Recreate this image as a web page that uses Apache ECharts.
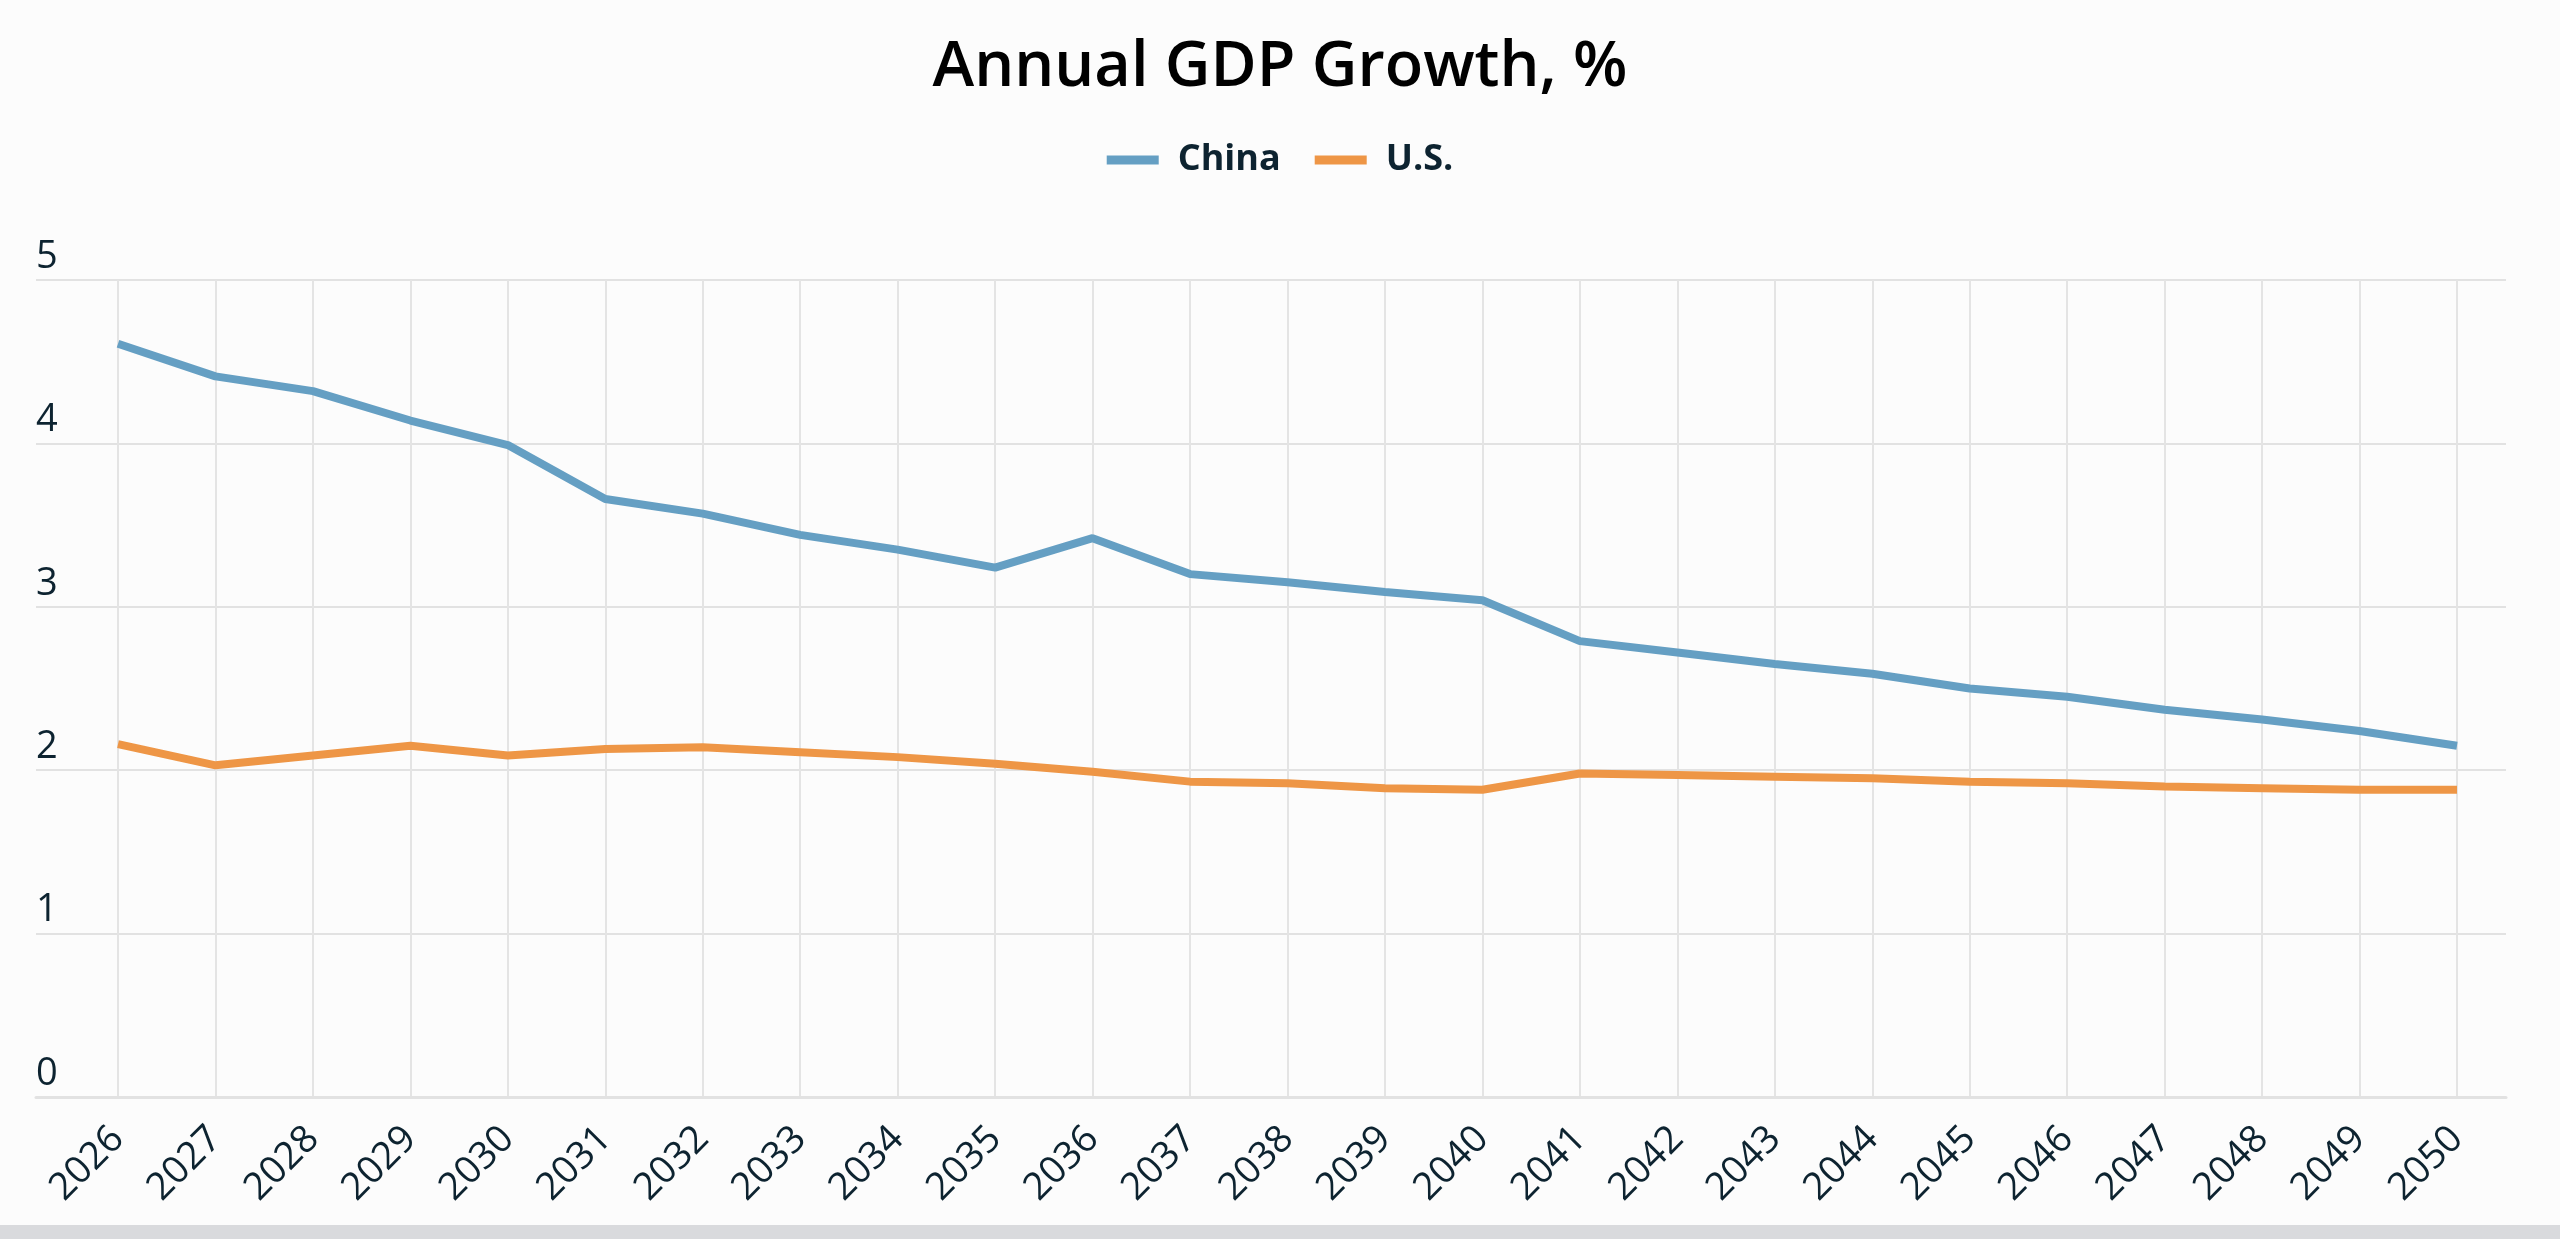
<!DOCTYPE html>
<html>
<head>
<meta charset="utf-8">
<script src="https://cdn.jsdelivr.net/npm/echarts@6/dist/echarts.min.js"></script>
<style>
html,body{margin:0;padding:0;background:#fcfcfc;}
#chart{width:2560px;height:1239px;}
</style>
</head>
<body>
<div id="chart"></div>
<script>
const years = ['2026','2027','2028','2029','2030','2031','2032','2033','2034','2035','2036','2037','2038','2039','2040','2041','2042','2043','2044','2045','2046','2047','2048','2049','2050'];
const china = [4.61,4.41,4.32,4.14,3.99,3.66,3.57,3.44,3.35,3.24,3.42,3.20,3.15,3.09,3.04,2.79,2.72,2.65,2.59,2.50,2.45,2.37,2.31,2.24,2.15];
const us = [2.16,2.03,2.09,2.15,2.09,2.13,2.14,2.11,2.08,2.04,1.99,1.93,1.92,1.89,1.88,1.98,1.97,1.96,1.95,1.93,1.92,1.90,1.89,1.88,1.88];
const yTicks = [0,1,2,3,4,5];

const font = '"Open Sans", "Noto Sans", sans-serif';
const chart = echarts.init(document.getElementById('chart'));
chart.setOption({
  backgroundColor: '#fcfcfc',
  animation: false,
  textStyle: { fontFamily: font },
  title: {
    text: 'Annual GDP Growth, %',
    left: 'center',
    top: 32,
    textStyle: { fontFamily: font, fontSize: 63, fontWeight: 600, color: '#000000' }
  },
  legend: {
    top: 137,
    left: 'center',
    icon: 'rect',
    itemWidth: 52,
    itemHeight: 9,
    itemGap: 34,
    textStyle: { fontFamily: font, fontSize: 36, fontWeight: 700, color: '#0d2330', padding: [0, 0, 0, 14] },
    data: ['China', 'U.S.']
  },
  grid: [
    { left: 36, right: 54, top: 280, height: 817 },
    { left: 118, right: 103, top: 280, height: 817 }
  ],
  xAxis: [
    { type: 'value', gridIndex: 0, min: 0, max: 1, show: true,
      axisLine: { show: true, lineStyle: { color: '#e2e2e2', width: 3 } },
      axisTick: { show: false }, axisLabel: { show: false }, splitLine: { show: false } },
    { type: 'category', gridIndex: 1, data: years, boundaryGap: false,
      axisLine: { show: false }, axisTick: { show: false },
      axisLabel: { interval: 0, rotate: 45, margin: 36, fontFamily: font, fontSize: 38, color: '#0d2330' },
      splitLine: { show: true, interval: 0, lineStyle: { color: '#e4e4e4', width: 2 } } }
  ],
  yAxis: [
    { type: 'value', gridIndex: 0, min: yTicks[0], max: yTicks[yTicks.length-1], interval: 1,
      axisLine: { show: false }, axisTick: { show: false },
      axisLabel: { inside: true, margin: 0, verticalAlign: 'bottom', align: 'left', padding: [0,0,4,0],
        fontFamily: font, fontSize: 38, color: '#0d2330' },
      splitLine: { show: true, lineStyle: { color: '#e2e2e2', width: 2 } } },
    { type: 'value', gridIndex: 1, min: 0, max: 5, interval: 1, show: false, splitLine: { show: false } }
  ],
  series: [
    { name: 'China', type: 'line', xAxisIndex: 1, yAxisIndex: 1, data: china, symbol: 'none',
      color: '#659fc3', lineStyle: { width: 8, color: '#659fc3' } },
    { name: 'U.S.', type: 'line', xAxisIndex: 1, yAxisIndex: 1, data: us, symbol: 'none',
      color: '#ee9646', lineStyle: { width: 8, color: '#ee9646' } }
  ],
  graphic: [
    { type: 'rect', left: 0, top: 1225, shape: { width: 2560, height: 14 }, style: { fill: '#d9dadd' }, silent: true }
  ]
});
</script>
</body>
</html>
